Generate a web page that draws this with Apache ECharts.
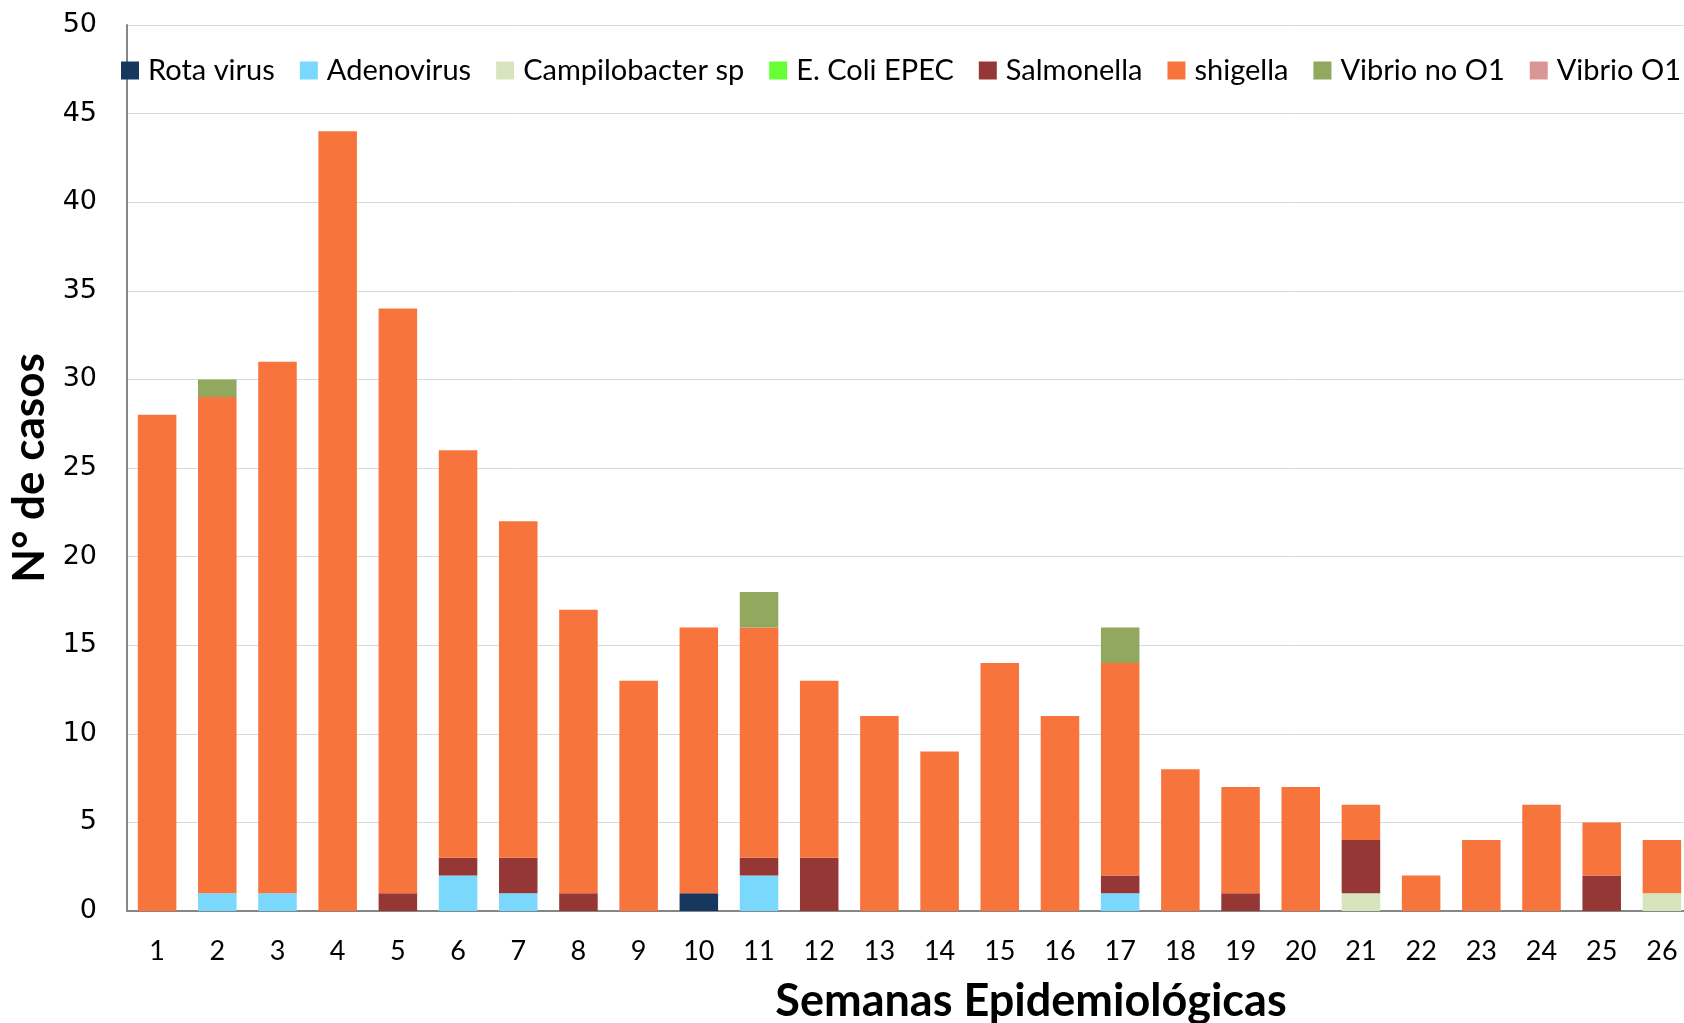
<!DOCTYPE html>
<html>
<head>
<meta charset="utf-8">
<script src="https://cdn.jsdelivr.net/npm/echarts@6/dist/echarts.min.js"></script>
<style>
html,body{margin:0;padding:0;background:#fff;}
#chart{width:1684px;height:1023px;}
</style>
</head>
<body>
<div id="chart"></div>
<script>
// semanas epidemiológicas 1..26
var semanas = ['1','2','3','4','5','6','7','8','9','10','11','12','13','14','15','16','17','18','19','20','21','22','23','24','25','26'];

var rotaVirus     = [0,0,0,0,0,0,0,0,0,1,0,0,0,0,0,0,0,0,0,0,0,0,0,0,0,0];
var adenovirus    = [0,1,1,0,0,2,1,0,0,0,2,0,0,0,0,0,1,0,0,0,0,0,0,0,0,0];
var campilobacter = [0,0,0,0,0,0,0,0,0,0,0,0,0,0,0,0,0,0,0,0,1,0,0,0,0,1];
var ecoliEpec     = [0,0,0,0,0,0,0,0,0,0,0,0,0,0,0,0,0,0,0,0,0,0,0,0,0,0];
var salmonella    = [0,0,0,0,1,1,2,1,0,0,1,3,0,0,0,0,1,0,1,0,3,0,0,0,2,0];
var shigella      = [28,28,30,44,33,23,19,16,13,15,13,10,11,9,14,11,12,8,6,7,2,2,4,6,3,3];
var vibrioNoO1    = [0,1,0,0,0,0,0,0,0,0,2,0,0,0,0,0,2,0,0,0,0,0,0,0,0,0];
var vibrioO1      = [0,0,0,0,0,0,0,0,0,0,0,0,0,0,0,0,0,0,0,0,0,0,0,0,0,0];

var yTicks = [0,5,10,15,20,25,30,35,40,45,50];

var nombres = ['Rota virus','Adenovirus','Campilobacter sp','E. Coli EPEC','Salmonella','shigella','Vibrio no O1','Vibrio O1'];
var datos = [rotaVirus, adenovirus, campilobacter, ecoliEpec, salmonella, shigella, vibrioNoO1, vibrioO1];
var colores = ['#17375e','#79d8fc','#d7e4bd','#66ff33','#953735','#f7743d','#92a85e','#d99694'];

var myChart = echarts.init(document.getElementById('chart'));

var series = nombres.map(function (n, i) {
	return {
		name: n,
		type: 'bar',
		stack: 'casos',
		barCategoryGap: '36%',
		itemStyle: { color: colores[i] },
		data: datos[i].map(function (v) { return v === 0 ? null : v; })
	};
});

var option = {
	animation: false,
	color: colores,
	legend: {
		data: nombres,
		left: 116,
		top: 51,
		width: 1700,
		itemWidth: 18,
		itemHeight: 18,
		itemGap: 25,
		icon: 'rect',
		textStyle: { fontFamily: 'Lato', fontSize: 29, color: '#000', padding: [0,0,0,4] }
	},
	grid: {
		left: 127,
		top: 25,
		width: 1565,
		bottom: 112,
		outerBoundsMode: 'none'
	},
	xAxis: {
		type: 'category',
		data: semanas,
		axisTick: { show: false },
		axisLine: { lineStyle: { color: '#868686', width: 2 } },
		axisLabel: { fontFamily: 'Lato', fontSize: 27, color: '#000', margin: 27 }
	},
	yAxis: {
		type: 'value',
		min: yTicks[0],
		max: yTicks[yTicks.length - 1],
		interval: 5,
		name: 'N° de casos',
		nameLocation: 'middle',
		nameRotate: 90,
		nameGap: 70,
		nameTextStyle: { fontFamily: 'Lato', fontWeight: 'bold', fontSize: 44, color: '#000' },
		axisLine: { show: true, lineStyle: { color: '#868686', width: 2 } },
		axisTick: { show: false },
		splitLine: { lineStyle: { color: '#d9d9d9', width: 1 } },
		axisLabel: { fontFamily: 'DejaVu Sans', fontSize: 27, color: '#000', margin: 30 }
	},
	graphic: [{
		type: 'text',
		x: 1031,
		y: 1001,
		style: {
			text: 'Semanas Epidemiológicas',
			fontFamily: 'Lato',
			fontWeight: 'bold',
			fontSize: 45,
			fill: '#000',
			textAlign: 'center',
			textVerticalAlign: 'middle'
		}
	}],
	series: series
};

myChart.setOption(option);
</script>
</body>
</html>
